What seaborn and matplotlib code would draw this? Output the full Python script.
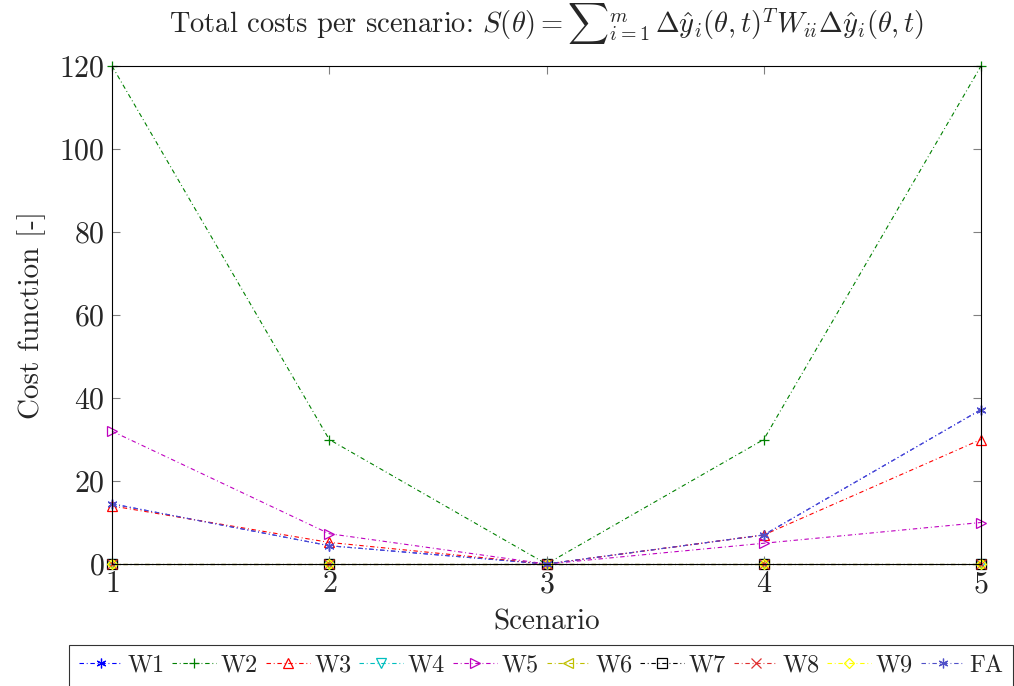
import matplotlib
matplotlib.use("Agg")
import matplotlib.pyplot as plt
import seaborn as sns
import pandas as pd

scenarios = [1, 2, 3, 4, 5]
W1 = [14.5, 4.4, 0, 7, 37.2]
W2 = [120, 30, 0, 30, 120]
W3 = [14, 5.2, 0, 7, 30]
W4 = [0, 0, 0, 0, 0]
W5 = [32, 7.3, 0, 5, 10]
W6 = [0, 0, 0, 0, 0]
W7 = [0, 0, 0, 0, 0]
W8 = [0, 0, 0, 0, 0]
W9 = [0, 0, 0, 0, 0]
FA = [14.5, 4.4, 0, 7, 37.2]

names = ["W1", "W2", "W3", "W4", "W5", "W6", "W7", "W8", "W9", "FA"]
values = [W1, W2, W3, W4, W5, W6, W7, W8, W9, FA]

sns.set_style("ticks")
plt.rcParams["font.family"] = "serif"
plt.rcParams["font.serif"] = ["cmr10", "DejaVu Serif"]
plt.rcParams["mathtext.fontset"] = "cm"
plt.rcParams["axes.formatter.use_mathtext"] = True

asterisk = (6, 2, 0)
styles = {
    "W1": dict(color="#0000ff", marker=asterisk, mfc="#0000ff"),
    "W2": dict(color="#008000", marker="+", mfc="#008000"),
    "W3": dict(color="#ff0000", marker="^", mfc="none"),
    "W4": dict(color="#00bfbf", marker="v", mfc="none"),
    "W5": dict(color="#bf00bf", marker=">", mfc="none"),
    "W6": dict(color="#bfbf00", marker="<", mfc="none"),
    "W7": dict(color="#000000", marker="s", mfc="none"),
    "W8": dict(color="#e03030", marker="x", mfc="#e03030"),
    "W9": dict(color="#ffff00", marker="D", mfc="none"),
    "FA": dict(color="#5050c8", marker=asterisk, mfc="#5050c8"),
}

fig = plt.figure(figsize=(10.14, 6.86), dpi=100)
ax = fig.add_axes([112 / 1014, 1 - 564 / 686, (981 - 112) / 1014, (564 - 66) / 686])

dash = (0, (4, 2.5, 0.8, 2.5))
for n, v in zip(names, values):
    st = styles[n]
    df = pd.DataFrame({"Scenario": scenarios, "Cost": v})
    ms = 7 if st["marker"] != "D" else 5
    sns.lineplot(data=df, x="Scenario", y="Cost", ax=ax, color=st["color"],
                 marker=st["marker"], markerfacecolor=st["mfc"],
                 markeredgecolor=st["color"], markersize=ms, markeredgewidth=0.9,
                 linewidth=0.8, linestyle=dash, label=n, clip_on=False)

ax.set_xlim(1, 5)
ax.set_ylim(0, 120)
ax.set_xticks([1, 2, 3, 4, 5])
ax.set_yticks([0, 20, 40, 60, 80, 100, 120])
ax.tick_params(direction="in", top=True, right=True, length=6, width=0.8,
               color="#808080", labelsize=21.5, pad=5)
for s in ax.spines.values():
    s.set_linewidth(0.8)
    s.set_color("black")
ax.set_xlabel("Scenario", fontsize=21, labelpad=8)
ax.set_ylabel("Cost function [-]", fontsize=21, labelpad=10)
ax.set_title(r"Total costs per scenario: $S(\theta) = {\sum}_{i=1}^{m}\,\Delta\hat{y}_i(\theta,t)^T W_{ii} \Delta\hat{y}_i(\theta,t)$",
             fontsize=20.5, pad=24)

ax.get_legend().remove()
handles, labels = ax.get_legend_handles_labels()
leg = fig.legend(handles, labels, loc="upper left",
                 bbox_to_anchor=(69 / 1014, 1 - 645 / 686), ncol=10,
                 fontsize=17.5, frameon=True, fancybox=False, edgecolor="black",
                 handlelength=1.8, handletextpad=0.2, columnspacing=0.32,
                 borderpad=0.4, borderaxespad=0)
leg.get_frame().set_linewidth(0.8)

fig.savefig("out.png", dpi=100)
